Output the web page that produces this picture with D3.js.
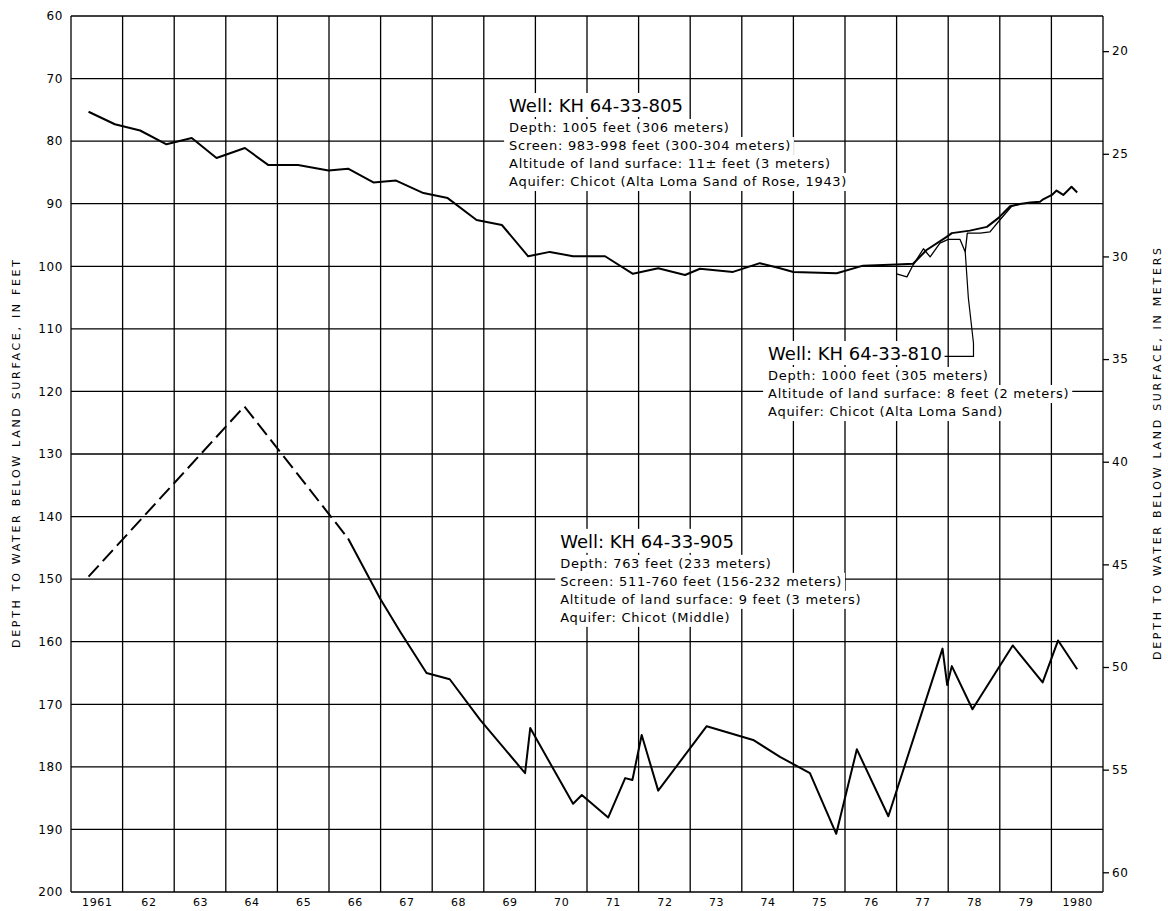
<!DOCTYPE html>
<html>
<head>
<meta charset="utf-8">
<script src="https://cdn.jsdelivr.net/npm/d3@7"></script>
<style>
  body { margin: 0; background: #fff; }
  text { font-family: "DejaVu Sans", sans-serif; fill: #000; }
</style>
</head>
<body>
<script>
const width = 1168;
const height = 911;

// years on the bottom, one column each
const years = d3.range(1961, 1981);
const yearLabels = ["1961", "62", "63", "64", "65", "66", "67", "68", "69", "70",
  "71", "72", "73", "74", "75", "76", "77", "78", "79", "1980"];
const feetTicks = d3.range(60, 201, 10);
const meterTicks = d3.range(20, 61, 5);

// [decimal year, depth in feet]
const well805 = [[1961.34, 75.3], [1961.85, 77.3], [1962.34, 78.3], [1962.85, 80.5], [1963.34, 79.5],
  [1963.82, 82.7], [1964.37, 81.1], [1964.82, 83.8], [1965.40, 83.8], [1965.99, 84.7],
  [1966.37, 84.4], [1966.86, 86.6], [1967.30, 86.3], [1967.83, 88.3], [1968.30, 89.1],
  [1968.86, 92.6], [1969.35, 93.4], [1969.86, 98.4], [1970.28, 97.7], [1970.73, 98.4],
  [1971.35, 98.4], [1971.89, 101.2], [1972.38, 100.3], [1972.90, 101.4], [1973.19, 100.4],
  [1973.83, 100.9], [1974.35, 99.5], [1974.74, 100.3], [1975.00, 100.9], [1975.84, 101.1],
  [1976.35, 99.9], [1977.00, 99.7], [1977.32, 99.6], [1977.58, 97.4], [1977.97, 95.3],
  [1978.07, 94.7], [1978.42, 94.3], [1978.75, 93.7], [1978.97, 92.3], [1979.20, 90.4],
  [1979.39, 90.05], [1979.59, 89.8], [1979.78, 89.7], [1979.84, 89.3], [1980.01, 88.6],
  [1980.10, 87.9], [1980.23, 88.6], [1980.39, 87.3], [1980.50, 88.2]];

const well810 = [[1977.00, 101.2], [1977.20, 101.7], [1977.32, 99.8], [1977.52, 97.2], [1977.65, 98.5],
  [1977.84, 96.3], [1978.00, 95.7], [1978.23, 95.7], [1978.33, 97.7], [1978.37, 94.7],
  [1978.62, 94.7], [1978.81, 94.5], [1979.00, 92.6], [1979.23, 90.4], [1979.39, 90.05]];

// estimated part (dashed) and measured part
const well905Est = [[1961.34, 149.6], [1964.36, 122.4], [1966.37, 143.5]];
const well905 = [[1966.37, 143.5], [1966.99, 153.1], [1967.38, 158.4], [1967.89, 165.0], [1968.34, 166.0],
  [1968.93, 172.5], [1969.80, 181.0], [1969.90, 173.8], [1970.73, 185.9], [1970.90, 184.5],
  [1971.41, 188.1], [1971.74, 181.8], [1971.88, 182.1], [1972.06, 174.9], [1972.38, 183.8],
  [1973.32, 173.5], [1974.22, 175.7], [1974.74, 178.4], [1975.32, 181.0], [1975.83, 190.7],
  [1976.23, 177.2], [1976.84, 187.9], [1977.89, 161.1], [1977.98, 166.9], [1978.07, 163.9],
  [1978.47, 170.8], [1979.25, 160.6], [1979.83, 166.5], [1980.13, 159.8], [1980.50, 164.4]];

// leader from the 810 label to its curve
const leader810 = [[1978.33, 97.7], [1978.39, 105.0], [1978.49, 112.3], [1978.49, 114.4], [1977.93, 114.4]];

const notes = [
  { at: [1969.49, 75.34], lines: ["Well: KH 64-33-805", "Depth: 1005 feet (306 meters)",
    "Screen: 983-998 feet (300-304 meters)", "Altitude of land surface: 11\u00b1 feet (3 meters)",
    "Aquifer: Chicot (Alta Loma Sand of Rose, 1943)"] },
  { at: [1974.51, 114.98], lines: ["Well: KH 64-33-810", "Depth: 1000 feet (305 meters)",
    "Altitude of land surface: 8 feet (2 meters)", "Aquifer: Chicot (Alta Loma Sand)"] },
  { at: [1970.48, 145.0], lines: ["Well: KH 64-33-905", "Depth: 763 feet (233 meters)",
    "Screen: 511-760 feet (156-232 meters)", "Altitude of land surface: 9 feet (3 meters)",
    "Aquifer: Chicot (Middle)"] }
];

const x = d3.scaleLinear().domain([1961, 1981]).range([71, 1103]);
const y = d3.scaleLinear().domain([60, 200]).range([16, 892]);
const yM = d3.scaleLinear().domain([60 * 0.3048, 200 * 0.3048]).range([16, 892]);

const svg = d3.select("body").append("svg")
    .attr("width", width)
    .attr("height", height);

svg.append("rect").attr("width", width).attr("height", height).attr("fill", "#fff");

// grid
const grid = svg.append("g").attr("stroke", "#000").attr("stroke-width", 1.3);
grid.selectAll(".v").data(d3.range(1961, 1982)).join("line")
    .attr("x1", d => x(d)).attr("x2", d => x(d))
    .attr("y1", y(60)).attr("y2", y(200));
grid.selectAll(".h").data(feetTicks).join("line")
    .attr("x1", x(1961)).attr("x2", x(1981))
    .attr("y1", d => y(d)).attr("y2", d => y(d));

// axes
const left = svg.append("g")
    .attr("transform", `translate(${x(1961)},0)`)
    .call(d3.axisLeft(y).tickValues(feetTicks).tickSize(0).tickPadding(8));
left.select(".domain").remove();
left.selectAll("text").attr("font-size", 12).attr("letter-spacing", 0.6)
    .attr("font-family", "DejaVu Sans");

const right = svg.append("g")
    .attr("transform", `translate(${x(1981)},0)`)
    .call(d3.axisRight(yM).tickValues(meterTicks).tickSize(6).tickPadding(3));
right.select(".domain").remove();
right.selectAll("line").attr("stroke", "#000").attr("stroke-width", 1.3);
right.selectAll("text").attr("font-size", 12).attr("letter-spacing", 0.6)
    .attr("font-family", "DejaVu Sans");

const bottom = svg.append("g")
    .attr("transform", `translate(0,${y(200)})`)
    .call(d3.axisBottom(x).tickValues(years.map(d => d + 0.5))
      .tickFormat((d, i) => yearLabels[i]).tickSize(0).tickPadding(6));
bottom.select(".domain").remove();
bottom.selectAll("text").attr("font-size", 11).attr("letter-spacing", 0.6)
    .attr("font-family", "DejaVu Sans");

svg.append("text")
    .attr("transform", `translate(20,${(y(60) + y(200)) / 2}) rotate(-90)`)
    .attr("text-anchor", "middle")
    .attr("font-size", 11)
    .attr("textLength", 388).attr("lengthAdjust", "spacing")
    .text("DEPTH TO WATER BELOW LAND SURFACE, IN FEET");

svg.append("text")
    .attr("transform", `translate(1161,${(y(60) + y(200)) / 2}) rotate(-90)`)
    .attr("text-anchor", "middle")
    .attr("font-size", 11)
    .attr("textLength", 412).attr("lengthAdjust", "spacing")
    .text("DEPTH TO WATER BELOW LAND SURFACE, IN METERS");

// notes with white knock-out behind each line
notes.forEach(n => {
  const g = svg.append("g").attr("transform", `translate(${x(n.at[0])},${y(n.at[1])})`);
  n.lines.forEach((s, i) => {
    const dy = i === 0 ? 0 : 20 + 18 * (i - 1);
    const t = g.append("text")
        .attr("y", dy)
        .attr("font-size", i === 0 ? 18 : 13)
        .attr("letter-spacing", i === 0 ? 0 : 0.7)
        .text(s);
    const b = t.node().getBBox();
    g.insert("rect", "text")
        .attr("x", b.x - 5).attr("y", i === 0 ? dy - 19 : dy - 13)
        .attr("width", b.width + 8).attr("height", i === 0 ? 24 : 18)
        .attr("fill", "#fff");
  });
});

const line = d3.line().x(d => x(d[0])).y(d => y(d[1]));

svg.append("path").datum(well905Est)
    .attr("d", line).attr("fill", "none").attr("stroke", "#000")
    .attr("stroke-width", 2).attr("stroke-dasharray", "15,6");

svg.append("path").datum(well905)
    .attr("d", line).attr("fill", "none").attr("stroke", "#000")
    .attr("stroke-width", 2).attr("stroke-linejoin", "round");

svg.append("path").datum(well805)
    .attr("d", line).attr("fill", "none").attr("stroke", "#000")
    .attr("stroke-width", 2).attr("stroke-linejoin", "round");

svg.append("path").datum(well810)
    .attr("d", line).attr("fill", "none").attr("stroke", "#000")
    .attr("stroke-width", 1.3).attr("stroke-linejoin", "round");

svg.append("path").datum(leader810)
    .attr("d", line).attr("fill", "none").attr("stroke", "#000")
    .attr("stroke-width", 1.2);
</script>
</body>
</html>
